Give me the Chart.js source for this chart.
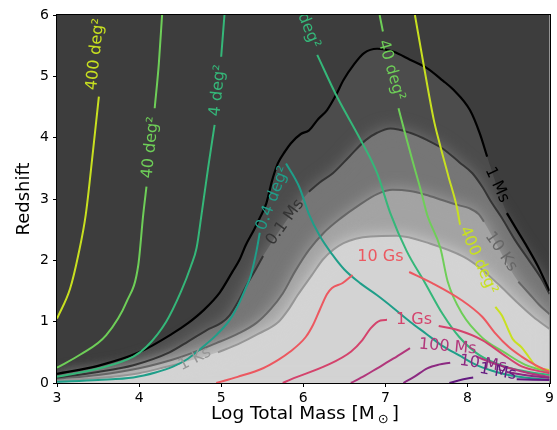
<!DOCTYPE html>
<html><head><meta charset="utf-8">
<script src="https://cdn.jsdelivr.net/npm/chart.js@4/dist/chart.umd.min.js"></script>
<style>html,body{margin:0;padding:0;background:#fff}</style>
</head><body>
<canvas id="c" width="557" height="430"></canvas>
<script>
// ---- tick labels ----
const xTicks = [3, 4, 5, 6, 7, 8, 9];
const yTicks = [0, 1, 2, 3, 4, 5, 6];

// ---- observation-time contours (gray), [log mass, redshift]; null = label gap ----
const time1Ms = [[3,0.15],[3.5,0.28],[4.0,0.5],[4.4,0.8],[4.6,0.98],[4.78,1.18],[4.98,1.47],[5.14,1.82],[5.22,2.0],[5.3,2.25],[5.4,2.5],[5.47,2.69],[5.55,2.93],[5.62,3.3],[5.69,3.58],[5.78,3.78],[5.85,3.91],[5.97,4.06],[6.07,4.12],[6.18,4.3],[6.29,4.45],[6.4,4.7],[6.49,4.94],[6.62,5.2],[6.74,5.38],[6.9,5.45],[7.1,5.4],[7.3,5.27],[7.51,5.13],[7.7,4.93],[7.83,4.78],[8.03,4.45],[8.15,4.07],[8.24,3.69],null,[8.48,2.77],[8.6,2.5],[8.7,2.28],[8.86,1.9],[9.0,1.5]];
const time100Ks = [[3,0.09],[3.5,0.18],[3.93,0.29],[4.37,0.5],[4.6,0.68],[4.82,0.86],[5.0,0.98],[5.1,1.1],[5.22,1.36],[5.3,1.57],[5.42,1.85],[5.51,2.07],null,[6.07,3.12],[6.2,3.27],[6.36,3.42],[6.56,3.69],[6.76,3.96],[6.9,4.08],[7.06,4.15],[7.3,4.08],[7.51,3.96],[7.7,3.82],[7.9,3.6],[8.06,3.42],[8.18,3.2],[8.3,2.93],[8.42,2.69],[8.58,2.33],[8.75,2.0],[8.91,1.68],[9.0,1.45]];
const time10Ks = [[3,0.07],[3.5,0.13],[4.0,0.24],[4.5,0.42],[4.94,0.65],[5.2,0.8],[5.43,0.98],[5.6,1.2],[5.75,1.46],[5.9,1.82],[6.07,2.17],[6.25,2.45],[6.45,2.68],[6.68,2.9],[6.9,3.08],[7.09,3.15],[7.3,3.13],[7.49,3.07],[7.7,2.98],[7.89,2.9],[8.02,2.85],[8.14,2.75],[8.2,2.63],null,[8.62,1.65],[8.75,1.46],[8.87,1.28],[9.0,1.12]];
const time1Ks = [[3,0.04],[3.5,0.08],[4.0,0.16],[4.32,0.26],[4.5,0.32],null,[4.96,0.5],[5.2,0.63],[5.45,0.8],[5.7,1.0],[5.82,1.2],[5.93,1.43],[6.1,1.75],[6.25,2.03],[6.49,2.28],[6.82,2.39],[7.14,2.4],[7.55,2.27],[7.95,2.06],[8.15,1.88],[8.4,1.58],[8.6,1.32],[8.8,1.08],[9.0,0.88]];

// ---- sky-localisation contours (viridis) ----
const sky400L = [[3,1.05],[3.16,1.54],[3.26,2.09],[3.35,2.74],[3.44,3.8],[3.51,4.67]];
const sky40L = [[3,0.25],[3.28,0.46],[3.6,0.78],[3.85,1.33],[3.99,1.92],[4.05,2.74],[4.09,3.2],null,[4.19,4.48],[4.24,5.2],[4.28,6.0]];
const sky4L = [[3,0.1],[3.52,0.24],[3.93,0.43],[4.09,0.59],[4.33,1.0],[4.51,1.49],[4.63,1.9],[4.7,2.2],[4.76,2.74],[4.84,3.5],[4.92,4.21],null,[5.0,5.32],[5.04,6.0]];
const sky04 = [[3,0.02],[3.5,0.05],[3.93,0.09],[4.2,0.17],[4.42,0.27],[4.6,0.4],[4.75,0.56],[4.94,0.78],[5.1,1.02],[5.2,1.25],[5.3,1.55],[5.36,1.75],[5.43,2.15],[5.47,2.45],null,[5.79,3.58],[5.95,3.2],[6.07,2.75],[6.2,2.4],[6.35,2.1],[6.5,1.85],[6.7,1.62],[6.9,1.43],[7.1,1.22],[7.3,1.0],[7.5,0.8],[7.7,0.6],[7.9,0.45],[8.1,0.3],[8.3,0.2],[8.5,0.13],[8.75,0.08],[9.0,0.05]];
const sky4R = [[6.17,5.35],[6.41,4.67],[6.7,3.96],[6.9,3.42],[7.06,2.77],[7.26,2.15],[7.48,1.64],[7.7,1.12],[7.9,0.75],[8.15,0.45],[8.5,0.25],[8.75,0.18],[9.0,0.13]];
const sky40R = [[6.93,6.0],[6.97,5.73],null,[7.16,4.48],[7.24,4.07],[7.34,3.58],[7.43,3.15],[7.51,2.74],[7.67,2.2],[7.76,1.65],[7.94,1.12],[8.18,0.74],[8.45,0.5],[8.7,0.3],[9.0,0.18]];
const sky400R = [[7.36,6.0],[7.47,5.16],[7.59,4.29],[7.65,3.96],[7.77,3.36],[7.87,2.87],[7.91,2.58],null,[8.34,1.24],[8.42,1.1],[8.5,0.86],[8.55,0.72],[8.66,0.58],[8.75,0.42],[8.83,0.28],[9.0,0.21]];

// ---- merger-time contours (magma) ----
const merge10Gs = [[4.94,0.0],[5.2,0.1],[5.51,0.24],[5.7,0.38],[5.83,0.5],[6.03,0.75],[6.12,0.95],[6.2,1.19],[6.29,1.45],[6.35,1.55],[6.48,1.63],[6.6,1.76],null,[7.29,1.81],[7.57,1.63],[7.93,1.35],[8.18,1.08],[8.34,0.81],[8.5,0.59],[8.66,0.43],[8.83,0.29],[9.0,0.18]];
const merge1Gs = [[5.75,0.0],[5.85,0.06],[6.29,0.29],[6.58,0.51],[6.72,0.7],[6.82,0.89],[6.94,1.02],[7.02,1.03],null,[7.65,0.93],[7.89,0.86],[8.18,0.7],[8.42,0.48],[8.66,0.27],[9.0,0.16]];
const merge100Ms = [[6.58,0.0],[6.75,0.12],[6.9,0.24],[7.1,0.4],[7.3,0.57],null,[8.11,0.43],[8.3,0.33],[8.52,0.24],[8.75,0.16],[9.0,0.1]];
const merge10Ms = [[7.22,0.0],[7.35,0.1],[7.51,0.24],[7.65,0.3],[7.79,0.33],null,[8.48,0.18],[8.7,0.13],[9.0,0.08]];
const merge1Ms = [[7.78,0.0],[7.95,0.06],[8.07,0.09],null,[8.6,0.06],[9.0,0.05]];

// ---- styles ----
const FONT = '"DejaVu Sans", "Liberation Sans", sans-serif';
const BG = '#3d3d3d';
const G1 = '#000000', G2 = '#343434', G3 = '#666666', G4 = '#969696';
const F1 = '#4c4c4c', F2 = '#767676', F3 = '#a3a3a3', F4 = '#d3d3d3';
const C04 = '#1f9e89', C4 = '#35b779', C40 = '#6ece58', C400 = '#c8e020';
const R10G = '#ec5860', R1G = '#d4436c', R100M = '#b2377b', R10M = '#8c2981', R1M = '#641a80';
const SOFT = 'blur(8px)';

const contourLabels = [
  ['400 deg²', 3.47, 5.36, -84, C400],
  ['40 deg²', 4.14, 3.84, -84, C40],
  ['4 deg²', 4.96, 4.77, -84, C4],
  ['0.4 deg²', 5.63, 3.01, -69, C04],
  ['4 deg²', 6.03, 5.86, 68, C4],
  ['40 deg²', 7.07, 5.1, 74, C40],
  ['400 deg²', 8.13, 2.0, 66, C400],
  ['1 Ms', 8.36, 3.23, 65, G1],
  ['0.1 Ms', 5.78, 2.62, -54, G2],
  ['10 Ks', 8.41, 2.14, 55, G3],
  ['1 Ks', 4.68, 0.39, -27, G4],
  ['10 Gs', 6.94, 2.05, 0, R10G],
  ['1 Gs', 7.35, 1.03, 0, R1G],
  ['100 Ms', 7.76, 0.59, 5, R100M],
  ['10 Ms', 8.19, 0.31, 8, R10M],
  ['1 Ms', 8.37, 0.18, 10, R1M]
];

const toPts = a => a.map(p => p ? {x: p[0], y: p[1]} : {x: NaN, y: NaN});
const toFill = a => a.filter(p => p).map(p => ({x: p[0], y: p[1]}));

const datasets = [];
let ord = 1000;
[[time1Ms, F1, ['solid']], [time100Ks, F2, ['solid', 'soft']], [time10Ks, F3, ['solid', 'soft']], [time1Ks, F4, ['solid', 'soft']]].forEach(([a, c, kinds]) => {
  kinds.forEach(kind => {
    datasets.push({data: toFill(a), showLine: true, fill: 'origin', backgroundColor: c, kind,
      borderWidth: 0, borderColor: 'rgba(0,0,0,0)', pointRadius: 0, order: ord--, cubicInterpolationMode: 'monotone'});
  });
});
const strokes = [
  [time1Ks, G4, 2], [time10Ks, G3, 2], [time100Ks, G2, 2], [time1Ms, G1, 2.2],
  [sky400L, C400, 2], [sky40L, C40, 2], [sky4L, C4, 2], [sky04, C04, 2],
  [sky4R, C4, 2], [sky40R, C40, 2], [sky400R, C400, 2],
  [merge10Gs, R10G, 2], [merge1Gs, R1G, 2], [merge100Ms, R100M, 2], [merge10Ms, R10M, 2], [merge1Ms, R1M, 2]
];
strokes.forEach(([a, c, w]) => {
  datasets.push({data: toPts(a), showLine: true, fill: false, borderColor: c, borderWidth: w,
    pointRadius: 0, spanGaps: false, order: ord--, cubicInterpolationMode: 'monotone'});
});

const decor = {
  id: 'decor',
  beforeDatasetsDraw(chart) {
    const {ctx, chartArea: a} = chart;
    ctx.save(); ctx.fillStyle = BG; ctx.fillRect(a.left, a.top, a.right - a.left, a.bottom - a.top); ctx.restore();
  },
  afterDatasetDraw(chart, args) {
    const ds = chart.data.datasets[args.index];
    const next = chart.data.datasets.find(d => d.order === ds.order - 1);
    chart.ctx.filter = (next && next.kind === 'soft') ? SOFT : 'none';
  },
  afterDatasetsDraw(chart) {
    const {ctx, chartArea: a, scales: {x, y}} = chart;
    ctx.filter = 'none';
    ctx.save();
    ctx.beginPath(); ctx.rect(a.left, a.top, a.right - a.left, a.bottom - a.top); ctx.clip();
    ctx.font = '16px ' + FONT; ctx.textAlign = 'center'; ctx.textBaseline = 'middle';
    contourLabels.forEach(([t, lx, ly, ang, col]) => {
      ctx.save();
      ctx.translate(x.getPixelForValue(lx), y.getPixelForValue(ly));
      ctx.rotate(ang * Math.PI / 180);
      ctx.fillStyle = col; ctx.fillText(t, 0, 0);
      ctx.restore();
    });
    ctx.restore();
  },
  afterDraw(chart) {
    const {ctx, chartArea: a} = chart;
    ctx.save();
    ctx.strokeStyle = '#000'; ctx.lineWidth = 1;
    ctx.strokeRect(Math.round(a.left) - 0.5, Math.round(a.top) - 0.5, Math.round(a.right - a.left) + 1, Math.round(a.bottom - a.top) + 1);
    ctx.fillStyle = '#000';
    ctx.font = '18px ' + FONT; ctx.textAlign = 'center'; ctx.textBaseline = 'alphabetic';
    ctx.save(); ctx.translate(29, (a.top + a.bottom) / 2); ctx.rotate(-Math.PI / 2); ctx.fillText('Redshift', 0, 0); ctx.restore();
    const t1 = 'Log Total Mass [M', t2 = '⊙', t3 = ']';
    ctx.font = '18.5px ' + FONT; const w1 = ctx.measureText(t1).width, w3 = ctx.measureText(t3).width;
    ctx.font = '13px ' + FONT; const w2 = ctx.measureText(t2).width;
    const tot = w1 + 3 + w2 + 3 + w3; let sx = 305 - tot / 2; const by = 419;
    ctx.textAlign = 'left';
    ctx.font = '18.5px ' + FONT; ctx.fillText(t1, sx, by); sx += w1 + 3;
    ctx.font = '13px ' + FONT; ctx.fillText(t2, sx, by + 4); sx += w2 + 3;
    ctx.font = '18.5px ' + FONT; ctx.fillText(t3, sx, by);
    ctx.restore();
  }
};

new Chart(document.getElementById('c'), {
  type: 'scatter',
  data: {datasets},
  options: {
    responsive: false, animation: false, devicePixelRatio: 1,
    layout: {padding: {left: 0, right: 6, top: 15, bottom: 0}},
    plugins: {legend: {display: false}, tooltip: {enabled: false}},
    events: [],
    scales: {
      x: {type: 'linear', min: 3, max: 9, position: 'bottom',
        afterBuildTicks: s => { s.ticks = xTicks.map(v => ({value: v})); },
        afterFit: s => { s.height = 47; },
        ticks: {font: {family: FONT, size: 14}, color: '#000', padding: 3, maxRotation: 0, autoSkip: false, callback: v => String(v)},
        grid: {drawOnChartArea: false, drawTicks: true, tickLength: 4, color: '#000', lineWidth: 1},
        border: {display: false}},
      y: {type: 'linear', min: 0, max: 6,
        afterBuildTicks: s => { s.ticks = yTicks.map(v => ({value: v})); },
        afterFit: s => { s.width = 57; },
        ticks: {font: {family: FONT, size: 14}, color: '#000', padding: 4, autoSkip: false, callback: v => String(v)},
        grid: {drawOnChartArea: false, drawTicks: true, tickLength: 4, color: '#000', lineWidth: 1},
        border: {display: false}}
    }
  },
  plugins: [decor]
});
</script>
</body></html>
